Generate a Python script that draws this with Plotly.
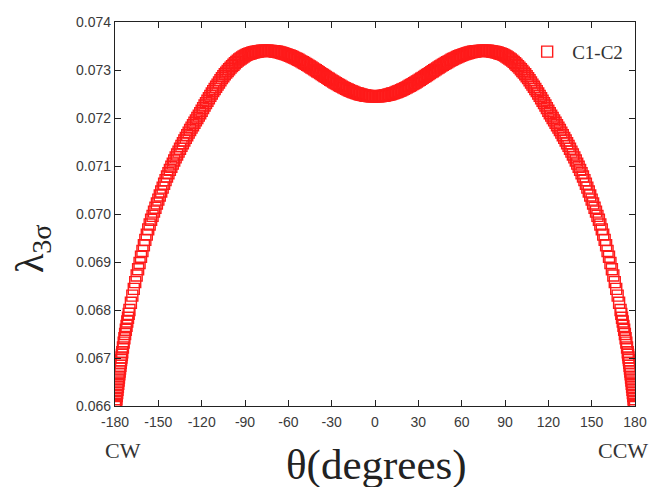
import plotly.graph_objects as go

# Rotation angle (degrees) and lambda_3sigma of the C1-C2 pair
theta = [
    -180, -179.75, -179.5, -179.25, -179, -178.75, -178.5, -178.25, -178, -177.75,
    -177.5, -177.25, -177, -176.75, -176.5, -176.25, -176, -175.75, -175.5, -175.25,
    -175, -174.5, -174, -173.5, -173, -172.5, -172, -171.5, -171, -170.5,
    -170, -169, -168, -167, -166, -165, -164, -163, -162, -161,
    -160, -159, -158, -157, -156, -155, -154, -153, -152, -151,
    -150, -149, -148, -147, -146, -145, -144, -143, -142, -141,
    -140, -139, -138, -137, -136, -135, -134, -133, -132, -131,
    -130, -129, -128, -127, -126, -125, -124, -123, -122, -121,
    -120, -119, -118, -117, -116, -115, -114, -113, -112, -111,
    -110, -109, -108, -107, -106, -105, -104, -103, -102, -101,
    -100, -99, -98, -97, -96, -95, -94, -93, -92, -91,
    -90, -89, -88, -87, -86, -85, -84, -83, -82, -81,
    -80, -79, -78, -77, -76, -75, -74, -73, -72, -71,
    -70, -69, -68, -67, -66, -65, -64, -63, -62, -61,
    -60, -59, -58, -57, -56, -55, -54, -53, -52, -51,
    -50, -49, -48, -47, -46, -45, -44, -43, -42, -41,
    -40, -39, -38, -37, -36, -35, -34, -33, -32, -31,
    -30, -29, -28, -27, -26, -25, -24, -23, -22, -21,
    -20, -19, -18, -17, -16, -15, -14, -13, -12, -11,
    -10, -9, -8, -7, -6, -5, -4, -3, -2, -1,
    0, 1, 2, 3, 4, 5, 6, 7, 8, 9,
    10, 11, 12, 13, 14, 15, 16, 17, 18, 19,
    20, 21, 22, 23, 24, 25, 26, 27, 28, 29,
    30, 31, 32, 33, 34, 35, 36, 37, 38, 39,
    40, 41, 42, 43, 44, 45, 46, 47, 48, 49,
    50, 51, 52, 53, 54, 55, 56, 57, 58, 59,
    60, 61, 62, 63, 64, 65, 66, 67, 68, 69,
    70, 71, 72, 73, 74, 75, 76, 77, 78, 79,
    80, 81, 82, 83, 84, 85, 86, 87, 88, 89,
    90, 91, 92, 93, 94, 95, 96, 97, 98, 99,
    100, 101, 102, 103, 104, 105, 106, 107, 108, 109,
    110, 111, 112, 113, 114, 115, 116, 117, 118, 119,
    120, 121, 122, 123, 124, 125, 126, 127, 128, 129,
    130, 131, 132, 133, 134, 135, 136, 137, 138, 139,
    140, 141, 142, 143, 144, 145, 146, 147, 148, 149,
    150, 151, 152, 153, 154, 155, 156, 157, 158, 159,
    160, 161, 162, 163, 164, 165, 166, 167, 168, 169,
    170, 170.5, 171, 171.5, 172, 172.5, 173, 173.5, 174, 174.5,
    175, 175.25, 175.5, 175.75, 176, 176.25, 176.5, 176.75, 177, 177.25,
    177.5, 177.75, 178, 178.25, 178.5, 178.75, 179, 179.25, 179.5, 179.75,
    180,
]

lambda_3sigma = [
    0.066000, 0.066020, 0.066050, 0.066090, 0.066140, 0.066205, 0.066270, 0.066335, 0.066400, 0.066465,
    0.066530, 0.066595, 0.066660, 0.066720, 0.066780, 0.066840, 0.066900, 0.066955, 0.067010, 0.067065,
    0.067120, 0.067220, 0.067320, 0.067410, 0.067500, 0.067590, 0.067670, 0.067760, 0.067840, 0.067920,
    0.068000, 0.068150, 0.068300, 0.068440, 0.068580, 0.068720, 0.068850, 0.068980, 0.069110, 0.069230,
    0.069350, 0.069460, 0.069570, 0.069680, 0.069780, 0.069880, 0.069960, 0.070050, 0.070130, 0.070220,
    0.070300, 0.070385, 0.070470, 0.070550, 0.070630, 0.070705, 0.070780, 0.070850, 0.070920, 0.070985,
    0.071050, 0.071115, 0.071180, 0.071240, 0.071300, 0.071360, 0.071420, 0.071475, 0.071530, 0.071585,
    0.071640, 0.071695, 0.071750, 0.071800, 0.071850, 0.071900, 0.071950, 0.072000, 0.072050, 0.072100,
    0.072150, 0.072205, 0.072260, 0.072310, 0.072360, 0.072410, 0.072460, 0.072510, 0.072560, 0.072605,
    0.072650, 0.072695, 0.072740, 0.072785, 0.072830, 0.072870, 0.072910, 0.072945, 0.072980, 0.073015,
    0.073050, 0.073080, 0.073110, 0.073140, 0.073170, 0.073195, 0.073220, 0.073240, 0.073260, 0.073280,
    0.073300, 0.073315, 0.073330, 0.073340, 0.073350, 0.073360, 0.073370, 0.073375, 0.073380, 0.073385,
    0.073390, 0.073395, 0.073400, 0.073400, 0.073400, 0.073400, 0.073400, 0.073398, 0.073396, 0.073393,
    0.073390, 0.073385, 0.073380, 0.073374, 0.073367, 0.073359, 0.073350, 0.073341, 0.073331, 0.073321,
    0.073309, 0.073297, 0.073285, 0.073271, 0.073257, 0.073243, 0.073228, 0.073212, 0.073196, 0.073180,
    0.073163, 0.073145, 0.073127, 0.073109, 0.073091, 0.073072, 0.073053, 0.073033, 0.073014, 0.072994,
    0.072975, 0.072955, 0.072935, 0.072915, 0.072895, 0.072875, 0.072856, 0.072836, 0.072817, 0.072797,
    0.072778, 0.072759, 0.072741, 0.072723, 0.072705, 0.072688, 0.072671, 0.072654, 0.072638, 0.072622,
    0.072607, 0.072593, 0.072579, 0.072565, 0.072553, 0.072541, 0.072529, 0.072519, 0.072509, 0.072500,
    0.072491, 0.072483, 0.072476, 0.072470, 0.072465, 0.072460, 0.072457, 0.072454, 0.072452, 0.072450,
    0.072450, 0.072450, 0.072452, 0.072454, 0.072457, 0.072460, 0.072465, 0.072470, 0.072476, 0.072483,
    0.072491, 0.072500, 0.072509, 0.072519, 0.072529, 0.072541, 0.072553, 0.072565, 0.072579, 0.072593,
    0.072607, 0.072622, 0.072638, 0.072654, 0.072671, 0.072688, 0.072705, 0.072723, 0.072741, 0.072759,
    0.072778, 0.072797, 0.072817, 0.072836, 0.072856, 0.072875, 0.072895, 0.072915, 0.072935, 0.072955,
    0.072975, 0.072994, 0.073014, 0.073033, 0.073053, 0.073072, 0.073091, 0.073109, 0.073127, 0.073145,
    0.073163, 0.073180, 0.073196, 0.073212, 0.073228, 0.073243, 0.073257, 0.073271, 0.073285, 0.073297,
    0.073309, 0.073321, 0.073331, 0.073341, 0.073350, 0.073359, 0.073367, 0.073374, 0.073380, 0.073385,
    0.073390, 0.073393, 0.073396, 0.073398, 0.073400, 0.073400, 0.073400, 0.073400, 0.073400, 0.073395,
    0.073390, 0.073385, 0.073380, 0.073375, 0.073370, 0.073360, 0.073350, 0.073340, 0.073330, 0.073315,
    0.073300, 0.073280, 0.073260, 0.073240, 0.073220, 0.073195, 0.073170, 0.073140, 0.073110, 0.073080,
    0.073050, 0.073015, 0.072980, 0.072945, 0.072910, 0.072870, 0.072830, 0.072785, 0.072740, 0.072695,
    0.072650, 0.072605, 0.072560, 0.072510, 0.072460, 0.072410, 0.072360, 0.072310, 0.072260, 0.072205,
    0.072150, 0.072100, 0.072050, 0.072000, 0.071950, 0.071900, 0.071850, 0.071800, 0.071750, 0.071695,
    0.071640, 0.071585, 0.071530, 0.071475, 0.071420, 0.071360, 0.071300, 0.071240, 0.071180, 0.071115,
    0.071050, 0.070985, 0.070920, 0.070850, 0.070780, 0.070705, 0.070630, 0.070550, 0.070470, 0.070385,
    0.070300, 0.070220, 0.070130, 0.070050, 0.069960, 0.069880, 0.069780, 0.069680, 0.069570, 0.069460,
    0.069350, 0.069230, 0.069110, 0.068980, 0.068850, 0.068720, 0.068580, 0.068440, 0.068300, 0.068150,
    0.068000, 0.067920, 0.067840, 0.067760, 0.067670, 0.067590, 0.067500, 0.067410, 0.067320, 0.067220,
    0.067120, 0.067065, 0.067010, 0.066955, 0.066900, 0.066840, 0.066780, 0.066720, 0.066660, 0.066595,
    0.066530, 0.066465, 0.066400, 0.066335, 0.066270, 0.066205, 0.066140, 0.066090, 0.066050, 0.066020,
    0.066000,
]
assert len(theta) == len(lambda_3sigma)

x_ticks = [-180, -150, -120, -90, -60, -30, 0, 30, 60, 90, 120, 150, 180]
y_ticks = [0.066, 0.067, 0.068, 0.069, 0.070, 0.071, 0.072, 0.073, 0.074]
y_tick_text = ["0.066", "0.067", "0.068", "0.069", "0.070", "0.071", "0.072", "0.073", "0.074"]

RED = "#ff1a1a"
SANS = "Liberation Sans, Arial, sans-serif"
SERIF = "Liberation Serif, Times New Roman, serif"

fig = go.Figure()
fig.add_trace(go.Scatter(
    x=theta,
    y=lambda_3sigma,
    mode="markers",
    name="C1-C2",
    marker=dict(symbol="square-open", size=11, color=RED, line=dict(width=1.4, color=RED)),
))

axis_common = dict(
    showgrid=False,
    zeroline=False,
    showline=True,
    linecolor="#222",
    linewidth=1.3,
    mirror="ticks",
    ticks="inside",
    ticklen=6,
    tickwidth=1.2,
    tickcolor="#222",
    tickfont=dict(family=SANS, size=14, color="#3a3a3a"),
)

fig.update_layout(
    width=659,
    height=487,
    margin=dict(l=115, r=21, t=22, b=81),
    paper_bgcolor="white",
    plot_bgcolor="white",
    showlegend=True,
    legend=dict(
        x=0.783, y=0.972, xanchor="left", yanchor="top",
        bgcolor="rgba(0,0,0,0)",
        itemwidth=40,
        font=dict(family=SERIF, size=19, color="#333"),
    ),
    xaxis=dict(
        range=[-180, 180],
        tickvals=x_ticks,
        ticktext=[str(v) for v in x_ticks],
        ticklabelstandoff=3,
        **axis_common,
    ),
    yaxis=dict(
        range=[0.066, 0.074],
        tickvals=y_ticks,
        ticktext=y_tick_text,
        **axis_common,
    ),
)

# Axis titles
fig.add_annotation(x=0.503, y=-0.1536, xref="paper", yref="paper", text="θ(degrees)",
                   showarrow=False, xanchor="center", yanchor="middle",
                   font=dict(family=SERIF, size=43, color="#222"))
fig.add_annotation(x=-0.1606, y=0.41, xref="paper", yref="paper", text="λ<sub>3σ</sub>",
                   textangle=-90, showarrow=False, xanchor="center", yanchor="middle",
                   font=dict(family=SERIF, size=40, color="#222"))

# Rotation-direction labels under the ends of the angle axis
fig.add_annotation(x=0.0153, y=-0.1146, xref="paper", yref="paper", text="CW",
                   showarrow=False, xanchor="center", yanchor="middle",
                   font=dict(family=SERIF, size=22, color="#333"))
fig.add_annotation(x=0.977, y=-0.1146, xref="paper", yref="paper", text="CCW",
                   showarrow=False, xanchor="center", yanchor="middle",
                   font=dict(family=SERIF, size=22, color="#333"))

fig.write_html("out.html")
